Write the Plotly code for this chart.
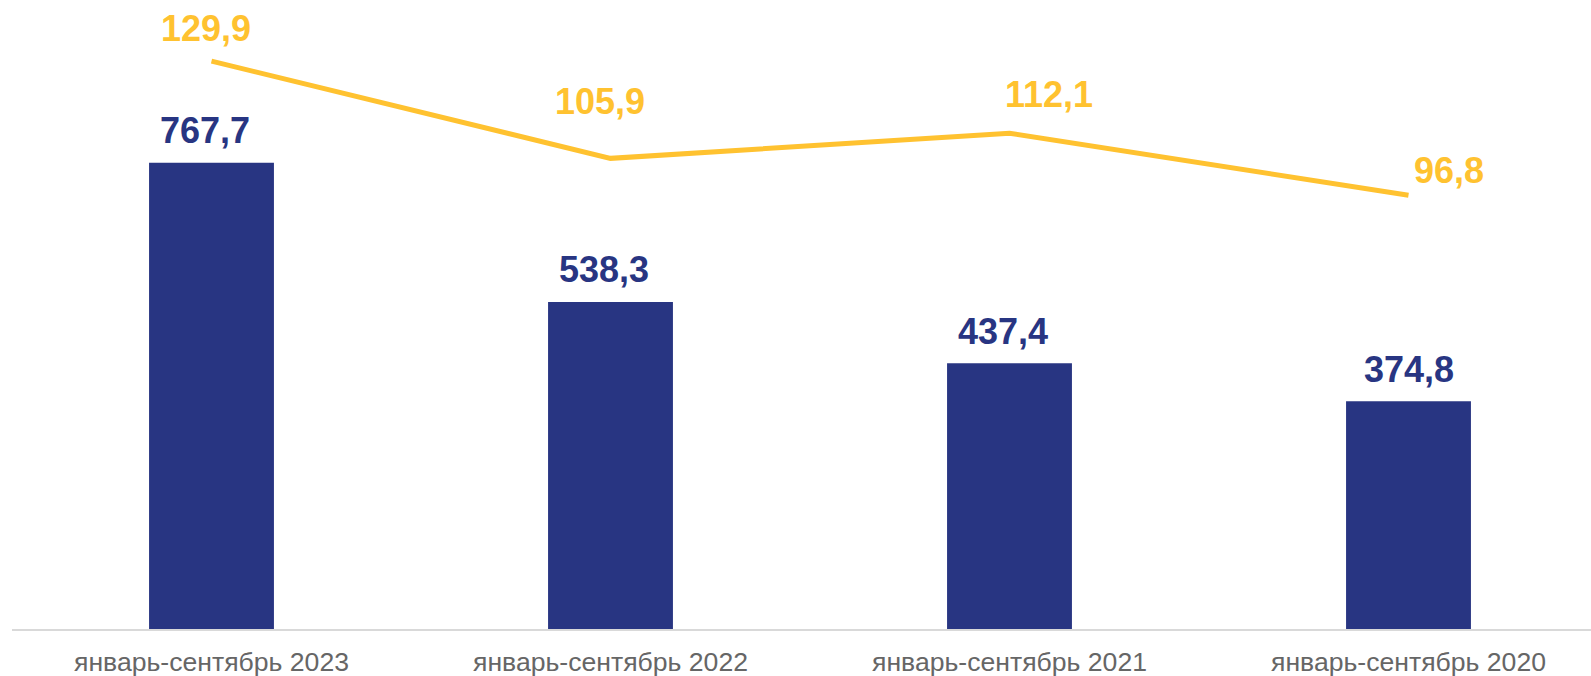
import plotly.graph_objects as go

# ---- data ----
categories = ["январь-сентябрь 2023", "январь-сентябрь 2022",
              "январь-сентябрь 2021", "январь-сентябрь 2020"]
bar_values = [767.7, 538.3, 437.4, 374.8]
line_values = [129.9, 105.9, 112.1, 96.8]
bar_labels = ["767,7", "538,3", "437,4", "374,8"]
line_labels = ["129,9", "105,9", "112,1", "96,8"]

# ---- styles ----
BAR_COLOR = "#283582"
LINE_COLOR = "#FFC230"
TICK_COLOR = "#666666"
FONT = "Liberation Sans, Arial, sans-serif"
VALUE_SIZE = 36

# label offsets in pixels (style, not data)
bar_label_shift = [(-7, 32), (-7, 32), (-7, 32), (0, 32)]
line_label_shift = [(-6, 33), (-11, 57), (39, 39), (40, 25)]

W, H = 1591, 676
ML, MR, MT, MB = 12, 0, 0, 47
plot_w = W - ML - MR
cat_px = 399.0

fig = go.Figure()
fig.add_trace(go.Bar(
    x=categories, y=bar_values, marker=dict(color=BAR_COLOR, line=dict(width=0)),
    width=0.313, yaxis="y", hoverinfo="x+y",
))
fig.add_trace(go.Scatter(
    x=categories, y=line_values, mode="lines",
    line=dict(color=LINE_COLOR, width=5), yaxis="y2",
))

annotations = []
for c, v, t, (dx, dy) in zip(categories, bar_values, bar_labels, bar_label_shift):
    annotations.append(dict(
        x=c, y=v, xref="x", yref="y", text=t, showarrow=False,
        xanchor="center", yanchor="middle", xshift=dx, yshift=dy,
        font=dict(family=FONT, size=VALUE_SIZE, color=BAR_COLOR, weight="bold"),
    ))
for c, v, t, (dx, dy) in zip(categories, line_values, line_labels, line_label_shift):
    annotations.append(dict(
        x=c, y=v, xref="x", yref="y2", text=t, showarrow=False,
        xanchor="center", yanchor="middle", xshift=dx, yshift=dy,
        font=dict(family=FONT, size=VALUE_SIZE, color=LINE_COLOR, weight="bold"),
    ))

fig.update_layout(
    width=W, height=H,
    margin=dict(l=ML, r=MR, t=MT, b=MB, pad=0),
    paper_bgcolor="white", plot_bgcolor="white",
    showlegend=False,
    font=dict(family=FONT),
    annotations=annotations,
    xaxis=dict(
        type="category", range=[-0.5, -0.5 + plot_w / cat_px],
        showline=True, linecolor="#D9D9D9", linewidth=2,
        showgrid=False, zeroline=False, ticks="",
        tickfont=dict(family=FONT, size=26.6, color=TICK_COLOR),
        ticklabelstandoff=8,
        automargin=False,
    ),
    yaxis=dict(
        range=[0, 1035.4], showgrid=False, zeroline=False,
        showticklabels=False, ticks="", showline=False,
    ),
    yaxis2=dict(
        range=[-10.3, 145.0], overlaying="y", side="right",
        showgrid=False, zeroline=False, showticklabels=False,
        ticks="", showline=False,
    ),
)

fig.write_html(
    "out.html",
    config={"displayModeBar": False},
    post_script="document.body.style.margin='0px';document.body.style.overflow='hidden';",
)
